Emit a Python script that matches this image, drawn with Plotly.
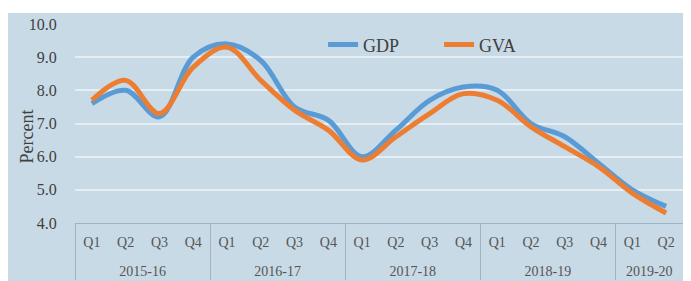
import plotly.graph_objects as go

years = ["2015-16"] * 4 + ["2016-17"] * 4 + ["2017-18"] * 4 + ["2018-19"] * 4 + ["2019-20"] * 2
quarters = ["Q1", "Q2", "Q3", "Q4"] * 4 + ["Q1", "Q2"]
gdp = [7.6, 8.0, 7.2, 9.0, 9.4, 8.9, 7.5, 7.1, 6.0, 6.8, 7.7, 8.1, 8.0, 7.0, 6.6, 5.8, 5.0, 4.5]
gva = [7.7, 8.3, 7.3, 8.7, 9.3, 8.3, 7.4, 6.8, 5.9, 6.6, 7.3, 7.9, 7.7, 6.9, 6.3, 5.7, 4.9, 4.3]
y_ticks = [4, 5, 6, 7, 8, 9, 10]

BG = "#c8dae6"
SERIF = "Liberation Serif"
TXT = "#404040"

# second-level labels pushed down one line to mimic the reference spacing
year_labels = ["<br>" + y for y in years]

fig = go.Figure()
fig.add_trace(go.Scatter(x=[year_labels, quarters], y=gdp, name="GDP", mode="lines",
                         line=dict(color="#5b9bd5", width=5, shape="spline", smoothing=1.0)))
fig.add_trace(go.Scatter(x=[year_labels, quarters], y=gva, name="GVA", mode="lines",
                         line=dict(color="#ed7d31", width=5, shape="spline", smoothing=1.0)))

# page body adds an 8px margin; figure drawn at offset (8, 8)
W, H = 683, 273
L, R, T, B = 67, 8, 16, 58
pw, ph = W - L - R, H - T - B
fig.add_shape(type="rect", xref="paper", yref="paper", layer="below",
              x0=-L / pw, x1=(pw + R) / pw, y0=-B / ph, y1=(ph + T - 5) / ph,
              fillcolor=BG, line=dict(width=0))

fig.add_annotation(text="Percent", textangle=-90, xref="paper", yref="paper",
                   x=(19 - L) / pw, y=0.435, xanchor="center", yanchor="middle", showarrow=False,
                   font=dict(family=SERIF, size=18, color=TXT))

fig.update_layout(
    width=W, height=H,
    margin=dict(l=L, r=R, t=T, b=B, pad=0, autoexpand=False),
    paper_bgcolor="white", plot_bgcolor=BG,
    showlegend=True,
    legend=dict(orientation="h", x=0.408, y=0.895, xanchor="left", yanchor="middle",
                bgcolor="rgba(0,0,0,0)", font=dict(family=SERIF, size=18, color=TXT),
                entrywidth=71, entrywidthmode="pixels", traceorder="normal"),
    xaxis=dict(type="multicategory", range=[-0.5, 17.5], showline=True, linecolor="#9fb3c2", linewidth=1,
               showgrid=False, ticks="outside", ticklen=8, tickcolor="rgba(0,0,0,0)",
               ticklabelstandoff=6,
               showdividers=True, dividercolor="#9fb3c2", dividerwidth=1,
               tickfont=dict(family=SERIF, size=14, color="#555555")),
    yaxis=dict(range=[4, 10], tickvals=y_ticks, tickformat=".1f",
               showgrid=True, gridcolor="#e6eef4", gridwidth=1.5, zeroline=False,
               showline=False, ticks="outside", ticklen=14, tickcolor="rgba(0,0,0,0)",
               tickfont=dict(family=SERIF, size=16, color="#404040")),
)

fig.write_html("out.html")
